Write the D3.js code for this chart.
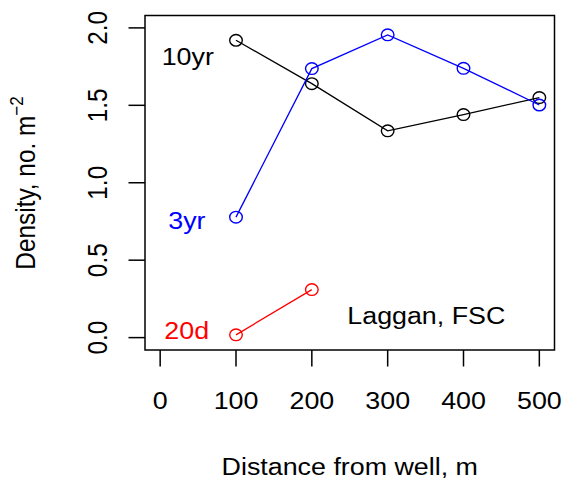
<!DOCTYPE html>
<html>
<head>
<meta charset="utf-8">
<script src="https://cdn.jsdelivr.net/npm/d3@7"></script>
<style>
  html, body { margin: 0; padding: 0; background: #fff; }
  svg { display: block; }
  text { font-family: "Liberation Sans", Arial, Helvetica, sans-serif; }
</style>
</head>
<body>
<svg id="chart" width="565" height="484"></svg>
<script>
// ---- data ----
const distances = [100, 200, 300, 400, 500];
const series10yr = [1.92, 1.64, 1.335, 1.44, 1.55];
const series3yr = [0.778, 1.737, 1.955, 1.739, 1.502];
const distances20d = [100, 200];
const series20d = [0.018, 0.31];
const xTicks = [0, 100, 200, 300, 400, 500];
const yTicks = [0.0, 0.5, 1.0, 1.5, 2.0];
const yTickLabels = ["0.0", "0.5", "1.0", "1.5", "2.0"];
const seriesNames = ["10yr", "3yr", "20d"];
const seriesColors = ["#000000", "#0000ff", "#ff0000"];

// ---- layout ----
const svg = d3.select("#chart");
const mLeft = 145, mRight = 554.5, mTop = 15.5, mBottom = 350;
const SX = 1.1; // horizontal stretch of glyphs in the reference
const FS = 24.4;

const x = d3.scaleLinear().domain([-20, 520]).range([mLeft, mRight]);
const y = d3.scaleLinear().domain([-0.08, 2.08]).range([mBottom, mTop]);

// plot box
svg.append("rect")
  .attr("x", mLeft).attr("y", mTop)
  .attr("width", mRight - mLeft).attr("height", mBottom - mTop)
  .attr("fill", "none").attr("stroke", "#000").attr("stroke-width", 1.5);

// x axis ticks
const gx = svg.append("g");
xTicks.forEach(t => {
  gx.append("line").attr("x1", x(t)).attr("x2", x(t))
    .attr("y1", mBottom).attr("y2", mBottom + 16.5)
    .attr("stroke", "#000").attr("stroke-width", 1.5);
  gx.append("text")
    .attr("transform", `translate(${x(t)},409) scale(${SX},1)`)
    .attr("text-anchor", "middle").attr("font-size", FS).text(t);
});

// y axis ticks
const gy = svg.append("g");
yTicks.forEach((t, i) => {
  gy.append("line").attr("x1", mLeft - 16.5).attr("x2", mLeft)
    .attr("y1", y(t)).attr("y2", y(t))
    .attr("stroke", "#000").attr("stroke-width", 1.5);
  gy.append("text")
    .attr("transform", `translate(107,${y(t)}) scale(${SX},1) rotate(-90)`)
    .attr("text-anchor", "middle").attr("font-size", FS).text(yTickLabels[i]);
});

// axis titles
svg.append("text")
  .attr("transform", `translate(${(mLeft + mRight) / 2},475) scale(${SX},1)`)
  .attr("text-anchor", "middle").attr("font-size", FS)
  .text("Distance from well, m");

const yt = svg.append("text")
  .attr("transform", `translate(35,183) scale(${SX},1) rotate(-90)`)
  .attr("text-anchor", "middle").attr("font-size", FS);
yt.append("tspan").text("Density, no. m");
yt.append("tspan").attr("dy", -11).attr("font-size", 17).text("\u22122");

// series
const line = d3.line().x(d => x(d[0])).y(d => y(d[1]));
const allSeries = [
  { xs: distances, ys: series10yr, color: seriesColors[0] },
  { xs: distances, ys: series3yr, color: seriesColors[1] },
  { xs: distances20d, ys: series20d, color: seriesColors[2] }
];
allSeries.forEach(s => {
  const pts = s.xs.map((d, i) => [d, s.ys[i]]);
  svg.append("path").datum(pts).attr("d", line)
    .attr("fill", "none").attr("stroke", s.color).attr("stroke-width", 1.3);
  svg.selectAll(null).data(pts).enter().append("ellipse")
    .attr("cx", d => x(d[0])).attr("cy", d => y(d[1]))
    .attr("rx", 6.3).attr("ry", 5.8)
    .attr("fill", "none").attr("stroke", s.color).attr("stroke-width", 1.4);
});

// labels
const labelPos = [[161.7, 65], [168.3, 229.3], [164.3, 339.3]];
seriesNames.forEach((n, i) => {
  svg.append("text")
    .attr("transform", `translate(${labelPos[i][0]},${labelPos[i][1]}) scale(${SX},1)`)
    .attr("font-size", FS).attr("fill", seriesColors[i]).text(n);
});
svg.append("text")
  .attr("transform", `translate(347.3,324.3) scale(${SX},1)`)
  .attr("font-size", FS).attr("fill", "#000").text("Laggan, FSC");
</script>
</body>
</html>
